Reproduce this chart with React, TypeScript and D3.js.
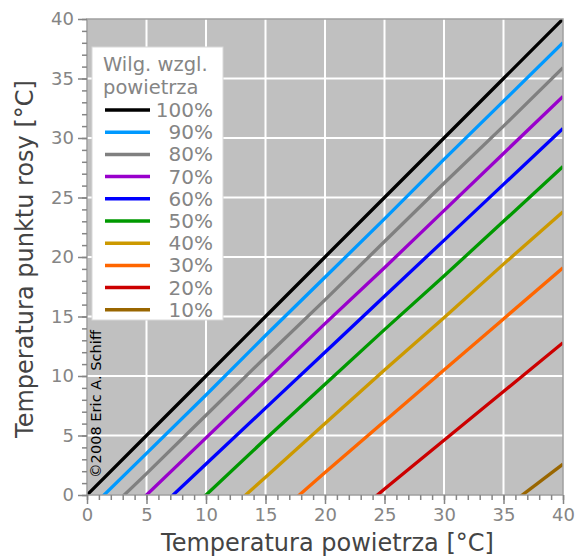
import React, { useEffect, useRef } from "react"
import * as d3 from "d3"

const airTemps = [0, 5, 10, 15, 20, 25, 30, 35, 40]

// relative humidity labels
const humidities = ["100%", "90%", "80%", "70%", "60%", "50%", "40%", "30%", "20%", "10%"]

const lineColors = ["#000000", "#0099ff", "#808080", "#9900cc", "#0000ff", "#009900", "#cc9900", "#ff6600", "#cc0000", "#996600"]

// dew point [°C] per humidity, null = below 0
const dew100 = [0, 5, 10, 15, 20, 25, 30, 35, 40]
const dew90 = [-1.4, 3.5, 8.4, 13.4, 18.3, 23.2, 28.2, 33.1, 38.0]
const dew80 = [-3.0, 1.8, 6.7, 11.6, 16.4, 21.3, 26.2, 31.0, 35.9]
const dew70 = [-4.8, 0.0, 4.8, 9.6, 14.4, 19.1, 23.9, 28.7, 33.5]
const dew60 = [null, -2.1, 2.6, 7.3, 12.0, 16.7, 21.4, 26.1, 30.8]
const dew50 = [null, -4.6, 0.0, 4.7, 9.3, 13.9, 18.4, 23.0, 27.6]
const dew40 = [null, null, -3.0, 1.5, 6.0, 10.5, 14.9, 19.4, 23.8]
const dew30 = [null, null, null, -2.5, 1.9, 6.2, 10.5, 14.8, 19.1]
const dew20 = [null, null, null, null, -3.7, 0.5, 4.6, 8.7, 12.8]
const dew10 = [null, null, null, null, null, null, null, -1.2, 2.6]

const series = [dew100, dew90, dew80, dew70, dew60, dew50, dew40, dew30, dew20, dew10]

const W = 576
const H = 558
const left = 87, right = 563, top = 19, bottom = 495
const font = "DejaVu Sans, Verdana, sans-serif"
const tickGray = "#858585"

export default function App() {
  const gRef = useRef<SVGGElement>(null)

  const x = d3.scaleLinear().domain([0, 40]).range([left, right])
  const y = d3.scaleLinear().domain([0, 40]).range([bottom, top])

  useEffect(() => {
    const g = d3.select(gRef.current)
    g.selectAll("*").remove()

    const xMinor = d3.axisBottom(x).ticks(40).tickSize(5).tickFormat(() => "")
    const xMajor = d3.axisBottom(x).tickValues(d3.range(0, 41, 5)).tickSize(9).tickPadding(4)
    const yMinor = d3.axisLeft(y).ticks(40).tickSize(5).tickFormat(() => "")
    const yMajor = d3.axisLeft(y).tickValues(d3.range(0, 41, 5)).tickSize(9).tickPadding(4)

    const style = (sel: any) => {
      sel.select(".domain").remove()
      sel.selectAll("line").attr("stroke", tickGray).attr("stroke-width", 1.5)
      sel.selectAll("text").attr("fill", tickGray).style("font-size", "18px").style("font-family", font)
    }

    g.append("g").attr("transform", `translate(0,${bottom})`).call(xMinor).call(style)
    g.append("g").attr("transform", `translate(0,${bottom})`).call(xMajor).call(style)
    g.append("g").attr("transform", `translate(${left},0)`).call(yMinor).call(style)
    g.append("g").attr("transform", `translate(${left},0)`).call(yMajor).call(style)
  }, [])

  const line = d3.line<[number, number | null]>()
    .defined(d => d[1] !== null)
    .x(d => x(d[0]))
    .y(d => y(d[1] as number))

  const grid = d3.range(5, 40, 5)
  const legendY = d3.scaleLinear().domain([0, 1]).range([110, 132.2])

  return (
    <svg width={W} height={H} style={{ position: "absolute", left: 0, top: 0, background: "#fff" }}>
      <defs>
        <clipPath id="plot">
          <rect x={left} y={top} width={right - left} height={bottom - top} />
        </clipPath>
      </defs>
      <rect x={left} y={top} width={right - left} height={bottom - top} fill="#c0c0c0" />
      {grid.map(v => (
        <line key={"gx" + v} x1={x(v)} x2={x(v)} y1={top} y2={bottom} stroke="#fff" strokeWidth={2} />
      ))}
      {grid.map(v => (
        <line key={"gy" + v} x1={left} x2={right} y1={y(v)} y2={y(v)} stroke="#fff" strokeWidth={2} />
      ))}
      <g clipPath="url(#plot)">
        {series.map((s, i) => (
          <path key={i} d={line(airTemps.map((t, j) => [t, s[j]]) as any) || ""}
            fill="none" stroke={lineColors[i]} strokeWidth={3.3} />
        ))}
      </g>
      <rect x={left} y={top} width={right - left} height={bottom - top} fill="none" stroke="#a0a0a0" strokeWidth={1.5} />
      <g ref={gRef} />

      {/* legend */}
      <rect x={92} y={47} width={131} height={273} fill="#fff" stroke="#d8d8d8" strokeWidth={1} />
      <text x={103} y={70.5} fill={tickGray} fontSize={19.5} fontFamily={font}>Wilg. wzgl.</text>
      <text x={103} y={94} fill={tickGray} fontSize={19.5} fontFamily={font}>powietrza</text>
      {humidities.map((h, i) => (
        <g key={h}>
          <line x1={105} x2={150} y1={legendY(i)} y2={legendY(i)} stroke={lineColors[i]} strokeWidth={3.5} />
          <text x={213} y={legendY(i) + 7} textAnchor="end" fill={tickGray} fontSize={20} fontFamily={font}>{h}</text>
        </g>
      ))}

      <text x={101} y={478} transform="rotate(-90 101 478)" fontSize={14.6} fontFamily={font} fill="#000">©2008 Eric A. Schiff</text>

      <text x={327.5} y={551} textAnchor="middle" fontSize={24} fontFamily={font} fill="#444">Temperatura powietrza [°C]</text>
      <text x={33} y={259} transform="rotate(-90 33 259)" textAnchor="middle" fontSize={24} fontFamily={font} fill="#444">Temperatura punktu rosy [°C]</text>
    </svg>
  )
}
